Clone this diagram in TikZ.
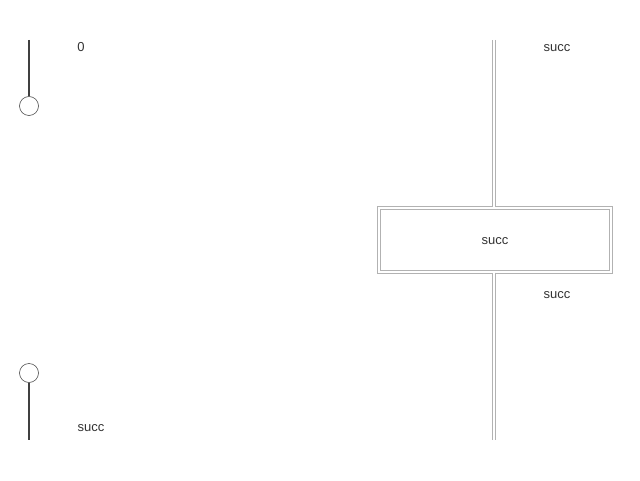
\documentclass[tikz,border=0pt]{standalone}
\usepackage{fontspec}
\setmainfont{Liberation Sans}
\begin{document}
\begin{tikzpicture}[x=0.5pt,y=-0.5pt,
    lbl/.style={font=\fontsize{6.5}{7}\selectfont,text=black!80},
    stub/.style={draw=black!75,line width=1pt},
    hole/.style={circle,draw=black!70,line width=0.3pt,minimum size=9.5pt,inner sep=0pt},
    rail/.style={draw=black!30,double=white,double distance=0.75pt,line width=0.5pt},
    box/.style={rectangle,draw=black!30,double=white,double distance=0.75pt,line width=0.5pt,
      minimum width=116pt,minimum height=32pt,inner sep=0pt}]
  \useasboundingbox (0,0) rectangle (640,480);
      % left side
      \coordinate (top) at (29,40);
      \node[hole](zin) at (29,106){};
      \draw[stub] (top) -- (zin);
      \node[hole](zout) at (29,373){};
      \coordinate (bot) at (29,440);
      \draw[stub] (zout) -- (bot);
      \node[lbl](zero) at (81,47){0};
      \node[lbl](res) at (91,428){succ};
      % right side
      \coordinate (rtop) at (494,40);
      \node[box](s) at (495,240){};
      \node[lbl](slbl) at (495,241){succ};
      \coordinate (rbot) at (494,440);
      \draw[rail] (rtop) -- (s.north -| rtop);
      \draw[rail] (s.south -| rbot) -- (rbot);
      \node[lbl](in) at (557,48){succ};
      \node[lbl](out) at (557,295){succ};
    \end{tikzpicture}
\end{document}
